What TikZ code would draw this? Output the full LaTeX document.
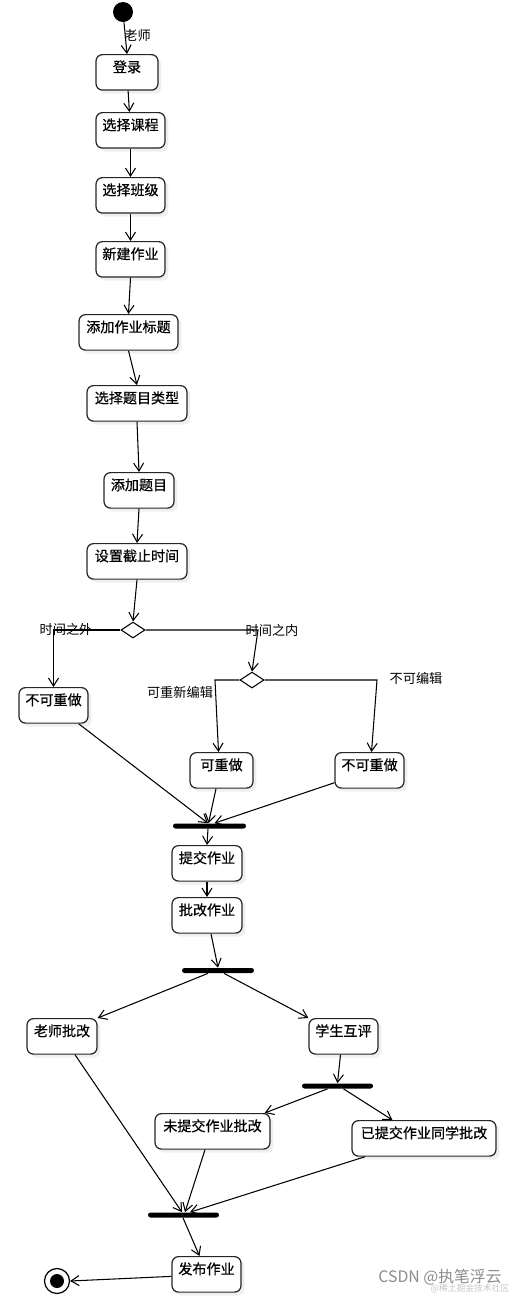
\documentclass[tikz,border=0pt]{standalone}
\usepackage{fontspec}
\usepackage{tikz}
\usetikzlibrary{positioning, shapes.geometric, arrows.meta, calc, shadows}
\newfontfamily\cjk{Noto Sans CJK SC}
\newfontfamily\cjkheavy[FakeBold=0.6]{Noto Sans CJK SC}

\begin{document}
\begin{tikzpicture}[
                x=0.02cm, y=-0.02cm,
                activity/.style={draw=black!85, line width=0.7pt, rectangle, rounded corners=0.13cm, anchor=north, inner xsep=2pt, inner ysep=3pt, text height=7pt, text depth=7.2pt, fill=white, font={\cjkheavy\fontsize{8pt}{9pt}\selectfont}, drop shadow={shadow xshift=0.07cm, shadow yshift=-0.07cm, opacity=0.12}},
                decision/.style={draw=black, line width=0.6pt, diamond, minimum width=0.48cm, minimum height=0.32cm, inner sep=0pt, fill=white},
                syncbar/.style={fill=black, rectangle, rounded corners=0.05cm, minimum height=0.1cm, inner sep=0pt},
                guard/.style={font={\cjk\fontsize{7.5pt}{9pt}\selectfont}, inner sep=0pt},
                edge/.style={line width=0.6pt, -{Straight Barb[length=1.6mm, width=2mm]}}
            ]

            \fill[white] (0,0) rectangle (524,1296);
            \useasboundingbox (0,0) rectangle (524,1296);

            % Knoten
            \node[circle, fill=black, minimum size=0.4cm, inner sep=0pt] (start) at (123,12) {};
            \node[activity, minimum width=1.24cm] (login) at (127,54) {登录};
            \node[activity, minimum width=1.38cm] (course) at (130.5,112) {选择课程};
            \node[activity, minimum width=1.38cm] (class) at (130.5,177) {选择班级};
            \node[activity, minimum width=1.38cm] (newhw) at (130.5,241) {新建作业};
            \node[activity, minimum width=1.98cm] (title) at (128.5,314) {添加作业标题};
            \node[activity, minimum width=2.0cm] (qtype) at (137,385) {选择题目类型};
            \node[activity, minimum width=1.4cm] (addq) at (139,472) {添加题目};
            \node[activity, minimum width=2.0cm] (deadline) at (137,543) {设置截止时间};
            \node[decision] (dec1) at (133,630) {};
            \node[decision] (dec2) at (252,680) {};
            \node[activity, minimum width=1.38cm] (noredoA) at (53.5,687) {不可重做};
            \node[activity, minimum width=1.26cm] (redo) at (221.5,752) {可重做};
            \node[activity, minimum width=1.38cm] (noredoB) at (369.5,752) {不可重做};
            \node[syncbar, minimum width=1.46cm] (bar1) at (209.5,826) {};
            \node[activity, minimum width=1.4cm] (submit) at (207,845) {提交作业};
            \node[activity, minimum width=1.4cm] (grade) at (207,897) {批改作业};
            \node[syncbar, minimum width=1.44cm] (bar2) at (218,970.5) {};
            \node[activity, minimum width=1.4cm] (tgrade) at (62,1018) {老师批改};
            \node[activity, minimum width=1.38cm] (peer) at (343.5,1018) {学生互评};
            \node[syncbar, minimum width=1.42cm] (bar3) at (337.5,1086) {};
            \node[activity, minimum width=2.3cm] (unsub) at (212.5,1113) {未提交作业批改};
            \node[activity, minimum width=2.88cm] (sub) at (424,1120) {已提交作业同学批改};
            \node[syncbar, minimum width=1.42cm] (bar4) at (183.5,1215) {};
            \node[activity, minimum width=1.38cm] (publish) at (206.5,1256) {发布作业};
            \node[circle, draw=black, line width=0.7pt, minimum size=0.5cm, inner sep=0pt, fill=white] (final) at (57,1281) {};
            \fill (final.center) circle (0.14cm);

            % Beschriftungen
            \node[guard, anchor=west] (teacher) at (124,35) {老师};
            \node[guard] (outside) at (66,629) {时间之外};
            \node[guard] (inside) at (272,630) {时间之内};
            \node[guard] (reedit) at (180,692) {可重新编辑};
            \node[guard] (noedit) at (416,678) {不可编辑};

            % Kanten zwischen Knoten
            \draw[edge] (start) -- (login.north);
            \draw[edge] (login) -- (course);
            \draw[edge] (course) -- (class);
            \draw[edge] (class) -- (newhw);
            \draw[edge] (newhw.south) -- (title.north);
            \draw[edge] (title.south) -- (qtype.north);
            \draw[edge] (qtype.south) -- (addq.north);
            \draw[edge] (addq.south) -- (deadline.north);
            \draw[edge] (deadline.south) -- (dec1.north);
            \draw[edge] (dec1.west) -| (noredoA.north);
            \coordinate (turnA) at (258,630);
            \draw[edge] (dec1.east) -- (turnA) -- (dec2.north);
            \coordinate (turnB) at (215,680);
            \draw[edge] (dec2.west) -- (turnB) -- ($(redo.north)+(-3,0)$);
            \coordinate (turnC) at (377,680);
            \draw[edge] (dec2.east) -- (turnC) -- ($(noredoB.north)+(2,0)$);
            \draw[edge] ($(noredoA.south east)+(-10,0)$) -- ($(bar1.north)+(-1.5,0)$);
            \draw[edge] ($(redo.south)+(-5.5,0)$) -- ($(bar1.north)+(-1,0)$);
            \draw[edge] ($(noredoB.south west)+(0,-6)$) -- ($(bar1.north)+(5,0)$);
            \draw[edge] ($(bar1.south)+(-1.5,0)$) -- (submit.north);
            \draw[edge] (submit) -- (grade);
            \draw[edge] ($(grade.south)+(4,0)$) -- (bar2.north);
            \draw[edge] ($(bar2.south)+(-10,0)$) -- (tgrade.north east);
            \draw[edge] ($(bar2.south)+(6,0)$) -- (peer.north west);
            \draw[edge] ($(peer.south)+(-3,0)$) -- (bar3.north);
            \draw[edge] ($(bar3.south)+(-10,0)$) -- ($(unsub.north east)+(-6,0)$);
            \draw[edge] ($(bar3.south)+(6,0)$) -- ($(sub.north west)+(41,0)$);
            \draw[edge] ($(tgrade.south)+(13,0)$) -- ($(bar4.north)+(-1.5,0)$);
            \draw[edge] ($(unsub.south)+(-7.5,0)$) -- ($(bar4.north)+(1.5,0)$);
            \draw[edge] ($(sub.south)+(-59,0)$) -- ($(bar4.north)+(6.5,0)$);
            \draw[edge] ($(bar4.south)+(-0.5,0)$) -- ($(publish.north)+(-7,0)$);
            \draw[edge] ($(publish.west)+(0,2)$) -- (final.east);

            % Wasserzeichen
            \node[font={\cjk\fontsize{9pt}{10pt}\selectfont}, text=black!45, inner sep=0pt] (mark) at (440,1277) {CSDN @执笔浮云};
            \node[font={\cjk\fontsize{5pt}{6pt}\selectfont}, text=black!22, inner sep=0pt] (marksub) at (470,1289) {@稀土掘金技术社区};

        \end{tikzpicture}
\end{document}
